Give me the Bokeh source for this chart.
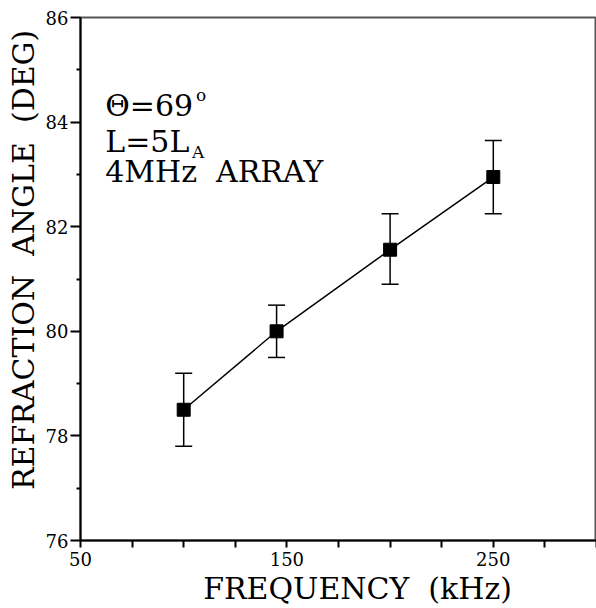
from bokeh.plotting import figure
from bokeh.models import ColumnDataSource, Whisker, TeeHead, FixedTicker, Range1d, Label
from bokeh.embed import file_html
from bokeh.resources import INLINE

freq = [100, 145, 200, 250]
angle = [78.5, 80.0, 81.56, 82.95]
err_upper = [79.2, 80.5, 82.25, 83.65]
err_lower = [77.8, 79.5, 80.9, 82.25]

x_major = [50, 150, 250]
x_minor = [75, 100, 125, 175, 200, 225, 275, 300]
y_major = [76, 78, 80, 82, 84, 86]
y_minor = [77, 79, 81, 83, 85]

FONT = "DejaVu Serif"
SP = "\u00a0"

src = ColumnDataSource(dict(x=freq, y=angle, upper=err_upper, lower=err_lower))

p = figure(width=596, height=608, output_backend="svg", toolbar_location=None,
           x_range=Range1d(50, 300), y_range=Range1d(76, 86),
           min_border_left=80, min_border_right=0, min_border_top=17, min_border_bottom=66)
p.background_fill_color = "white"
p.border_fill_color = "white"
p.grid.visible = False
p.outline_line_color = "#555555"
p.outline_line_width = 2

for ax in (p.xaxis[0], p.yaxis[0]):
    ax.axis_line_width = 2
    ax.axis_line_color = "black"
    ax.major_tick_line_width = 2
    ax.minor_tick_line_width = 2
    ax.major_tick_line_color = "black"
    ax.minor_tick_line_color = "black"
    ax.major_label_text_font = FONT
    ax.major_label_text_font_size = "18px"
    ax.major_label_text_color = "black"
    ax.axis_label_text_font = FONT
    ax.axis_label_text_font_size = "30px"
    ax.axis_label_text_font_style = "normal"
    ax.axis_label_text_color = "black"
    ax.major_tick_in = 0
    ax.minor_tick_in = 0

p.xaxis.ticker = FixedTicker(ticks=x_major, minor_ticks=x_minor)
p.xaxis.major_tick_out = 7
p.xaxis.minor_tick_out = 7
p.xaxis.axis_label = SP * 4 + "FREQUENCY" + SP + SP + "(kHz)"
p.xaxis.major_label_standoff = 4
p.xaxis.axis_label_standoff = 2

p.yaxis.ticker = FixedTicker(ticks=y_major, minor_ticks=y_minor)
p.yaxis.major_tick_out = 10
p.yaxis.minor_tick_out = 4
p.yaxis.axis_label = SP * 4 + "REFRACTION" + SP + SP + "ANGLE" + SP + SP + "(DEG)"
p.yaxis.major_label_standoff = 2
p.yaxis.axis_label_standoff = 2

p.add_layout(Whisker(source=src, base="x", upper="upper", lower="lower",
                     line_width=1.5, line_color="black",
                     upper_head=TeeHead(size=17, line_width=1.5, line_color="black"),
                     lower_head=TeeHead(size=17, line_width=1.5, line_color="black")))
p.line("x", "y", source=src, line_width=1.5, line_color="black")
p.scatter("x", "y", source=src, marker="square", size=13, fill_color="black", line_color="black")

lab_style = dict(text_font=FONT, text_color="black", text_font_size="30px")
p.add_layout(Label(x=62, y=83.98, text="Θ=69", **lab_style))
p.add_layout(Label(x=106, y=84.33, text="o", text_font=FONT, text_color="black", text_font_size="17px"))
p.add_layout(Label(x=62, y=83.3, text="L=5L", **lab_style))
p.add_layout(Label(x=104, y=83.24, text="A", text_font=FONT, text_color="black", text_font_size="17px"))
p.add_layout(Label(x=62, y=82.72, text="4MHz" + SP + SP + "ARRAY", **lab_style))

open("out.html", "w").write(file_html(p, INLINE))
